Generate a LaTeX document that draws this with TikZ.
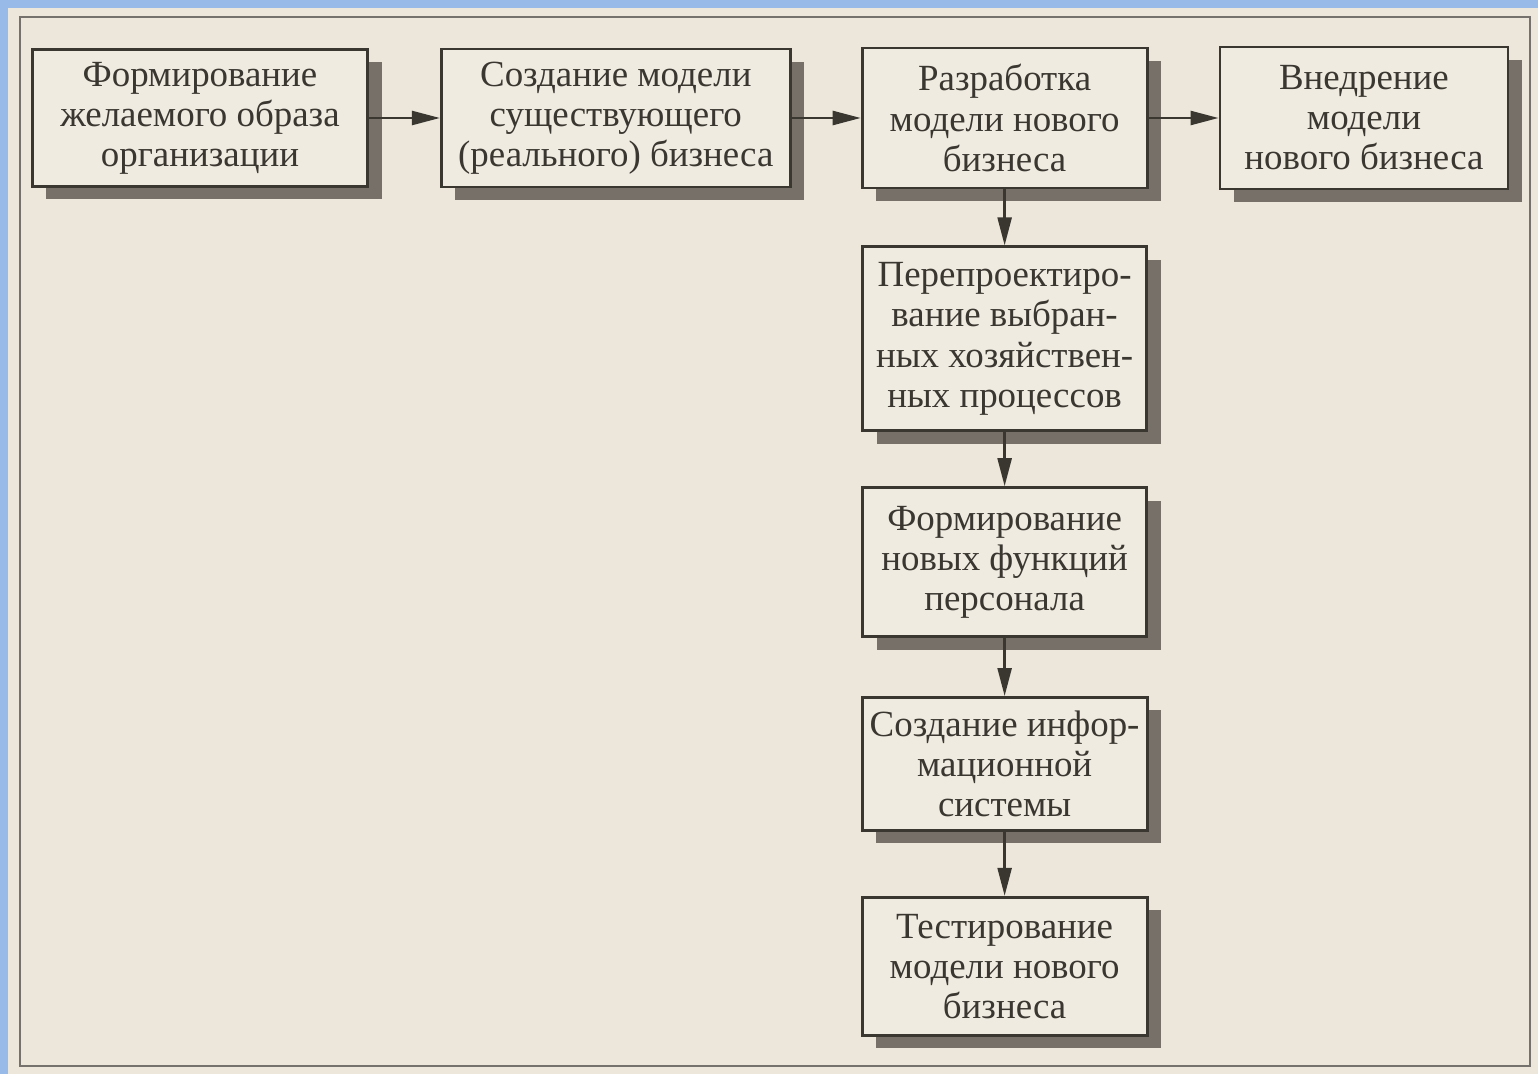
\documentclass[tikz,border=0pt]{standalone}
\usepackage{fontspec}
\setmainfont{Liberation Serif}
\usepackage{xcolor}
\usetikzlibrary{positioning, arrows.meta, shadows}

\definecolor{framebl}{RGB}{152,186,232}
\definecolor{paper}{RGB}{236,231,218}
\definecolor{boxfill}{RGB}{239,235,225}
\definecolor{inkgray}{RGB}{58,54,48}
\definecolor{shadegray}{RGB}{118,112,104}

\begin{document}
\begin{tikzpicture}[->,>={Triangle[length=0.28cm,width=0.14cm]},thick,
    stepbox/.style={draw=inkgray, fill=boxfill, line width=0.8pt, align=center,
      inner sep=2pt, text=inkgray, font=\fontsize{10.5}{11.4}\selectfont,
      drop shadow={shadow xshift=0.14cm, shadow yshift=-0.13cm,
        fill=shadegray, opacity=1}},
    every edge/.style={draw=inkgray, line width=0.7pt}]
    % background and frame
    \useasboundingbox (0,0) rectangle (15.38,-10.74);
    \fill[framebl] (0,0) rectangle (15.38,-10.74);
    \fill[paper] (0.08,-0.08) rectangle (15.38,-10.74);
    \draw[-, inkgray!70, line width=0.6pt] (0.2,-0.17) rectangle (15.3,-10.66);

    % top row
    \node[stepbox, minimum width=3.35cm, minimum height=1.37cm] (b1) at (2.0,-1.18)
        {Формирование\\желаемого образа\\организации};
    \node[stepbox, minimum width=3.49cm, minimum height=1.38cm] (b2) [right=0.71cm of b1]
        {Создание модели\\существующего\\(реального) бизнеса};
    \node[stepbox, minimum width=2.85cm, minimum height=1.40cm] (b3) [right=0.69cm of b2]
        {Разработка\\модели нового\\бизнеса};
    \node[stepbox, minimum width=2.88cm, minimum height=1.42cm] (b4) [right=0.70cm of b3]
        {Внедрение\\модели\\нового бизнеса};

    % column below
    \node[stepbox, minimum width=2.84cm, minimum height=1.84cm] (b5) [below=0.56cm of b3]
        {Перепроектиро-\\вание выбран-\\ных хозяйствен-\\ных процессов};
    \node[stepbox, minimum width=2.84cm, minimum height=1.49cm] (b6) [below=0.54cm of b5]
        {Формирование\\новых функций\\персонала};
    \node[stepbox, minimum width=2.85cm, minimum height=1.33cm] (b7) [below=0.58cm of b6]
        {Создание инфор-\\мационной\\системы};
    \node[stepbox, minimum width=2.85cm, minimum height=1.38cm] (b8) [below=0.64cm of b7]
        {Тестирование\\модели нового\\бизнеса};

    \path (b1) edge (b2)
          (b2) edge (b3)
          (b3) edge (b4)
          (b3) edge (b5)
          (b5) edge (b6)
          (b6) edge (b7)
          (b7) edge (b8);
\end{tikzpicture}
\end{document}
